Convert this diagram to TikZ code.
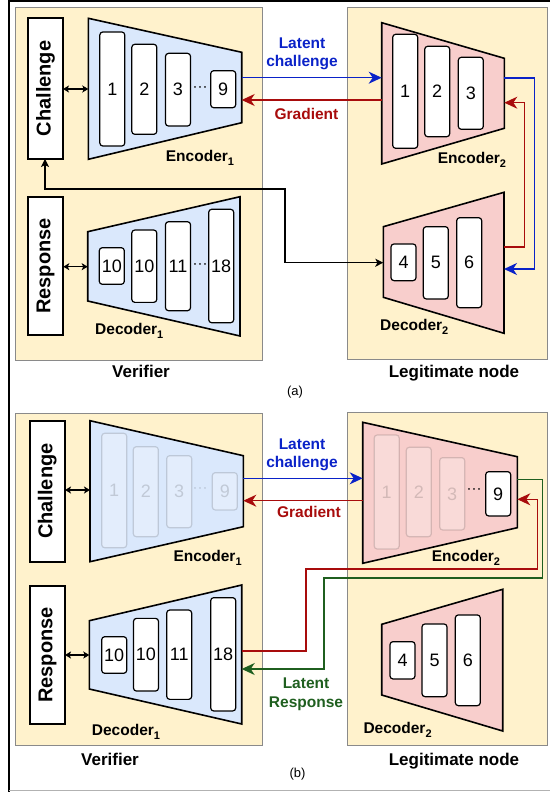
\documentclass[tikz,border=0pt]{standalone}
\usepackage{fontspec}
\setmainfont{Liberation Sans}
\usetikzlibrary{arrows.meta}
\definecolor{panel}{HTML}{FFF2CC}
\definecolor{encblue}{HTML}{DAE8FC}
\definecolor{decred}{HTML}{F8CECC}
\definecolor{lblue}{HTML}{0A22C8}
\definecolor{lred}{HTML}{A80C0C}
\definecolor{lgreen}{HTML}{1F5F1F}
\definecolor{pborder}{HTML}{8A8A8A}
\newcommand{\subn}[1]{\raisebox{-4pt}{\fontsize{11}{11}\selectfont #1}}
\tikzset{
  panelbox/.style={draw=pborder, fill=panel, line width=0.9pt},
  trap/.style={draw=black, line width=1.6pt, line join=miter},
  layer/.style={draw=black, fill=white, rounded corners=3pt, line width=1.2pt,
    minimum width=25pt, inner sep=0pt, font=\fontsize{18}{18}\selectfont},
  faded/.style={layer, draw opacity=0.14, fill opacity=0.25, text opacity=0.15},
  dotsl/.style={inner sep=0pt, font=\fontsize{15}{15}\selectfont},
  sidebox/.style={draw=black, fill=white, line width=1.6pt, rotate=90, inner sep=0pt,
    minimum height=35pt, font=\bfseries\fontsize{20}{20}\selectfont},
  netlbl/.style={anchor=base west, inner sep=0pt, font=\bfseries\fontsize{15.5}{16}\selectfont},
  caption/.style={anchor=base, inner sep=0pt, font=\bfseries\fontsize{17}{17}\selectfont},
  subcap/.style={anchor=base, inner sep=0pt, font=\fontsize{13}{13}\selectfont},
  arrlbl/.style={inner sep=0pt, align=center, font=\bfseries\fontsize{15.5}{18.5}\selectfont},
  bigtip/.style={-{Stealth[length=13pt,width=12pt,inset=4pt]}},
  conn/.style={line width=1.4pt},
  blk/.style={line width=1.2pt, {Stealth[length=8pt,width=8pt,inset=2pt]}-{Stealth[length=8pt,width=8pt,inset=2pt]}},
  dbl/.style={line width=1.2pt, {Stealth[length=6pt,width=7pt,inset=1.5pt]}-{Stealth[length=6pt,width=7pt,inset=1.5pt]}},
}
\begin{document}
\begin{tikzpicture}[x=1pt,y=-1pt]
\useasboundingbox (0,0) rectangle (550,792);
% outer frame
\draw[line width=2pt] (9,792) -- (9,1) -- (550,1);
\draw[gray!60, line width=1pt] (9,790.5) -- (550,790.5);

% ================= PANEL (a) =================
\path[panelbox] (15,7) rectangle (262,360);
\path[panelbox] (347,7) rectangle (547,359);

% trapezoids
\draw[trap, fill=encblue] (88.3,18.3) -- (241.7,52.3) -- (241.7,122.7) -- (88.3,159.3) -- cycle;
\draw[trap, fill=decred] (381.7,22.7) -- (504.3,58.3) -- (504.3,128.3) -- (381.7,164) -- cycle;
\draw[trap, fill=encblue] (87.7,231.7) -- (240,196.7) -- (240,336) -- (87.7,301) -- cycle;
\draw[trap, fill=decred] (383.3,226.7) -- (504,192.3) -- (504,333.3) -- (383.3,297.3) -- cycle;

% side boxes
\node[sidebox, minimum width=141pt] (chA) at (45.5,88.5) {Challenge};
\node[sidebox, minimum width=138pt] (reA) at (45.5,266) {Response};

% encoder1 layers
\node[layer, minimum height=114pt] (a11) at (112.3,89) {1};
\node[layer, minimum height=90pt] (a12) at (144.3,89.3) {2};
\node[layer, minimum height=72.7pt] (a13) at (178,89.7) {3};
\node[dotsl] (a1d) at (200,89) {···};
\node[layer, minimum height=37pt] (a19) at (223.2,89.2) {9};
% encoder2 layers
\node[layer, minimum height=114pt] (a21) at (405.2,91.3) {1};
\node[layer, minimum height=90.4pt] (a22) at (437.2,91.5) {2};
\node[layer, minimum height=72pt] (a23) at (470.8,93.3) {3};
% decoder1 layers
\node[layer, minimum height=36.6pt] (a3a) at (111.8,266) {10};
\node[layer, minimum height=72.3pt] (a3b) at (144.3,266.2) {10};
\node[layer, minimum height=89pt] (a3c) at (178,266.2) {11};
\node[dotsl] (a3d) at (200,266) {···};
\node[layer, minimum height=113.4pt] (a3e) at (221.2,266) {18};
% decoder2 layers
\node[layer, minimum height=36.7pt] (a44) at (403.5,262.3) {4};
\node[layer, minimum height=72.3pt] (a45) at (435.8,262.8) {5};
\node[layer, minimum height=90pt] (a46) at (469.2,262.7) {6};

% coordinates on trapezoid and box edges
\coordinate (aE1o) at (241.7,77.7);
\coordinate (aE2i) at (381.7,77.7);
\coordinate (aE2g) at (381.7,100);
\coordinate (aE1g) at (241.7,100);
\coordinate (aE2r) at (504.3,78);
\coordinate (aD2b) at (504,269);
\coordinate (aD2r) at (504,247);
\coordinate (aE2b) at (504.3,102.7);
\coordinate (aD2l) at (383.3,262.7);
\coordinate (aE1l) at (88.3,89);
\coordinate (aD1l) at (87.7,266.7);
\coordinate (aChR) at (63,89);
\coordinate (aReR) at (63.3,266.7);
\coordinate (aChB) at (45,159);

% connectors
\draw[conn, lblue, bigtip] (aE1o) -- (aE2i);
\draw[conn, lred, bigtip] (aE2g) -- (aE1g);
\draw[conn, lblue, bigtip] (aE2r) -- (534.3,78) -- (534.3,269) -- (aD2b);
\draw[conn, lred, bigtip] (aD2r) -- (524.3,247) -- (524.3,102.7) -- (aE2b);
\draw[blk] (aChB) -- (45,189) -- (285,189) -- (285,262.7) -- (aD2l);
\draw[dbl] (aChR) -- (aE1l);
\draw[dbl] (aReR) -- (aD1l);

% labels
\node[arrlbl, lblue] (aLc) at (302,54) {Latent\\challenge};
\node[arrlbl, lred] (aGr) at (306.5,114) {Gradient};
\node[netlbl] (aEn1) at (165.7,161) {Encoder\subn{1}};
\node[netlbl] (aEn2) at (437.7,163.3) {Encoder\subn{2}};
\node[netlbl] (aDe1) at (95,334) {Decoder\subn{1}};
\node[netlbl] (aDe2) at (380,330.7) {Decoder\subn{2}};
\node[caption] (aVer) at (141,377.7) {Verifier};
\node[caption] (aLeg) at (454,377) {Legitimate node};
\node[subcap] (aCap) at (295,395) {(a)};

% ================= PANEL (b) =================
\path[panelbox] (15,413) rectangle (262,745);
\path[panelbox] (347,412) rectangle (547,745);

\draw[trap, fill=encblue] (90,420.7) -- (243.3,455.7) -- (243.3,526.7) -- (90,561.7) -- cycle;
\draw[trap, fill=decred] (362.7,422.3) -- (517.3,456.7) -- (517.3,527.7) -- (362.7,563.3) -- cycle;
\draw[trap, fill=encblue] (89.3,620.7) -- (241.7,585) -- (241.7,724) -- (89.3,689) -- cycle;
\draw[trap, fill=decred] (381.7,624.3) -- (502.7,589.3) -- (502.7,731) -- (381.7,695) -- cycle;

\node[sidebox, minimum width=141pt] (chB) at (47.2,491.2) {Challenge};
\node[sidebox, minimum width=138pt] (reB) at (47.5,655) {Response};

% encoder1 (faded)
\node[faded, minimum height=114.4pt] (b11) at (114.2,490.5) {1};
\node[faded, minimum height=90pt] (b12) at (145.8,491.7) {2};
\node[faded, minimum height=72pt] (b13) at (179.2,491.7) {3};
\node[dotsl, text opacity=0.15] (b1d) at (200,490) {···};
\node[faded, minimum height=37.3pt] (b19) at (224.8,491.3) {9};
% encoder2
\node[faded, minimum height=114pt] (b21) at (386.7,492) {1};
\node[faded, minimum height=89.4pt] (b22) at (418.8,492) {2};
\node[faded, minimum height=72.3pt] (b23) at (452.2,493.8) {3};
\node[dotsl] (b2d) at (474,491) {···};
\node[layer, minimum height=44.3pt] (b29) at (498.2,493.8) {9};
% decoder1
\node[layer, minimum height=36.6pt] (b3a) at (114.2,655) {10};
\node[layer, minimum height=72.7pt] (b3b) at (146,654.7) {10};
\node[layer, minimum height=89.3pt] (b3c) at (179.2,654.7) {11};
\node[layer, minimum height=113.3pt] (b3e) at (223.2,654.3) {18};
% decoder2
\node[layer, minimum height=37.3pt] (b44) at (402.5,660.3) {4};
\node[layer, minimum height=72.7pt] (b45) at (434.5,660.3) {5};
\node[layer, minimum height=90.7pt] (b46) at (467.8,660.3) {6};

\coordinate (bE1o) at (243.3,478.3);
\coordinate (bE2i) at (362.7,478.3);
\coordinate (bE2g) at (362.7,500.7);
\coordinate (bE1g) at (243.3,500.7);
\coordinate (bE2r) at (517.3,479.3);
\coordinate (bD1r) at (241.7,669);
\coordinate (bD1o) at (241.7,651);
\coordinate (bE2b) at (517.3,499.3);
\coordinate (bE1l) at (90,490);
\coordinate (bD1l) at (89.3,655);
\coordinate (bChR) at (65,490);
\coordinate (bReR) at (65,655);

\draw[conn, lblue, bigtip] (bE1o) -- (bE2i);
\draw[conn, lred, bigtip] (bE2g) -- (bE1g);
\draw[conn, lgreen, bigtip] (bE2r) -- (542.3,479.3) -- (542.3,578) -- (324,578) -- (324,669) -- (bD1r);
\draw[conn, lred, bigtip] (bD1o) -- (306,651) -- (306,569) -- (537.3,569) -- (537.3,499.3) -- (bE2b);
\draw[dbl] (bChR) -- (bE1l);
\draw[dbl] (bReR) -- (bD1l);

\node[arrlbl, lblue] (bLc) at (302,454.7) {Latent\\challenge};
\node[arrlbl, lred] (bGr) at (309,512.3) {Gradient};
\node[arrlbl, lgreen] (bLr) at (306,694.2) {Latent\\Response};
\node[netlbl] (bEn1) at (173.3,561.7) {Encoder\subn{1}};
\node[netlbl] (bEn2) at (431.7,561.7) {Encoder\subn{2}};
\node[netlbl] (bDe1) at (91.7,735.7) {Decoder\subn{1}};
\node[netlbl] (bDe2) at (363.3,733.3) {Decoder\subn{2}};
\node[caption] (bVer) at (110,765) {Verifier};
\node[caption] (bLeg) at (454,765) {Legitimate node};
\node[subcap] (bCap) at (297.5,777) {(b)};
\end{tikzpicture}
\end{document}
